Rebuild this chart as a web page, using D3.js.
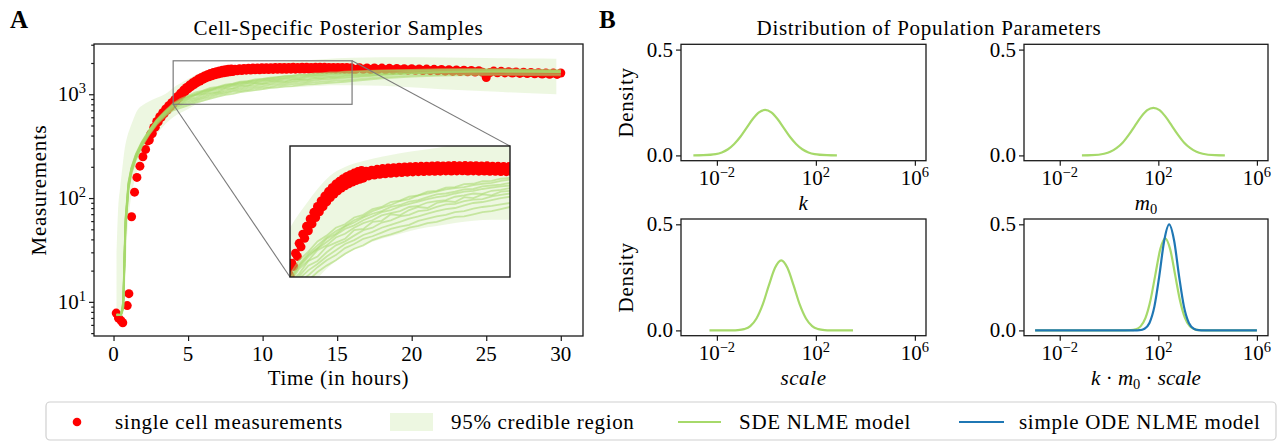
<!DOCTYPE html>
<html>
<head>
<meta charset="utf-8">
<script src="https://cdn.jsdelivr.net/npm/d3@7"></script>
<style>
  body { margin: 0; background: #fff; }
  text { font-family: "Liberation Serif", serif; fill: #000; }
</style>
</head>
<body>
<div class="chart"></div>
<script>

// ---- panel A data ----
// [time (h), measurement]
var cellMeasurements = [
  [0.18,7.8],[0.33,7.0],[0.5,6.6],[0.62,6.3],[0.92,9.2],[1.03,12],[1.21,66],[1.41,114],
  [1.57,158],[1.77,203],[1.97,250],[2.15,294],
  [2.3,355],[2.4,362],[2.5,414],[2.6,419],[2.7,478],[2.8,482],[2.9,546],[3.0,543],[3.1,608],[3.2,599],
  [3.3,664],[3.4,652],[3.5,721],[3.6,704],[3.7,775],[3.8,755],[3.9,828],[4.0,807],[4.1,886],[4.2,865],
  [4.3,953],[4.4,931],[4.5,1025],[4.6,999],[4.7,1097],[4.8,1064],[4.9,1162],[5.0,1125],[5.1,1226],[5.2,1183],
  [5.3,1288],[5.4,1240],[5.5,1345],[5.6,1294],[5.7,1401],[5.8,1343],[5.9,1452],[6.0,1391],[6.1,1501],[6.2,1436],
  [6.3,1545],[6.4,1474],[6.5,1586],[6.6,1509],[6.7,1619],[6.8,1540],[6.9,1650],[7.0,1567],[7.1,1677],[7.2,1590],
  [7.3,1700],[7.4,1610],[7.5,1720],[7.6,1629],[7.7,1739],[7.8,1644],[7.9,1753],[8.0,1657],
  [8.15,1745],[8.3,1685],[8.45,1758],[8.6,1695],[8.75,1768],[8.9,1705],[9.05,1778],[9.2,1712],
  [9.35,1785],[9.5,1718],[9.65,1790],[9.8,1722],[9.95,1795],[10.1,1728],[10.25,1800],[10.4,1732],
  [10.55,1802],[10.7,1735],[10.85,1806],[11.0,1738],[11.15,1808],[11.3,1740],[11.45,1810],[11.6,1742],
  [11.75,1812],[11.9,1744],[12.05,1815],[12.2,1745],[12.35,1812],[12.5,1748],[12.65,1816],[12.8,1746],
  [12.95,1818],[13.1,1748],[13.25,1814],[13.4,1750],[13.55,1818],[13.7,1746],[13.85,1815],[14.0,1748],
  [14.15,1816],[14.3,1745],[14.45,1812],[14.6,1746],[14.75,1814],[14.9,1742],[15.05,1810],[15.2,1744],
  [15.35,1808],[15.5,1740],[15.65,1806],[15.8,1738],[15.95,1804],[16.1,1736],
  [16.25,1735],[16.5,1795],[16.75,1742],[17.0,1790],[17.25,1730],[17.5,1788],[17.75,1728],[18.0,1785],
  [18.25,1722],[18.5,1776],[18.75,1716],[19.0,1772],[19.25,1712],[19.5,1765],[19.75,1705],[20.0,1760],
  [20.25,1700],[20.5,1752],[20.75,1690],[21.0,1748],[21.25,1688],[21.5,1738],[21.75,1680],[22.0,1730],
  [22.25,1668],[22.5,1722],[22.75,1660],[23.0,1715],[23.25,1652],[23.5,1702],[23.75,1645],[24.0,1698],
  [24.25,1636],[24.5,1688],[24.75,1628],[25.0,1450],[25.25,1620],[25.5,1672],[25.75,1612],[26.0,1662],
  [26.25,1606],[26.5,1650],[26.75,1598],[27.0,1642],[27.25,1588],[27.5,1632],[27.75,1580],[28.0,1622],
  [28.25,1572],[28.5,1612],[28.75,1565],[29.0,1605],[29.25,1558],[29.5,1598],[29.75,1552],[30.0,1600]
];

// [time, lower, upper]
var credibleBand = [
  [0.2,6.8,30],[0.3,6.8,75],[0.45,6.8,128],[0.6,7,200],[0.75,12,300],[0.9,40,380],
  [1.1,85,470],[1.3,125,560],[1.6,180,700],[2.0,250,790],[2.5,340,870],[3.0,430,935],
  [3.5,520,1010],[4.0,600,1150],[5.0,720,1400],[5.5,790,1530],[6.2,870,1690],[7.0,940,1800],
  [8.0,1010,1880],[9.0,1060,1940],[10.0,1100,1990],[11.0,1140,2030],[12.0,1165,2070],[13.0,1190,2120],
  [14.0,1210,2170],[15.0,1220,2220],[17.0,1215,2260],[19.0,1190,2270],[22.0,1120,2260],[25.0,1070,2240],
  [28.0,1020,2210],[29.7,1000,2200]
];

var sampleTimes = [0.2,0.5,0.65,0.8,1.0,1.2,1.5,1.9,2.4,2.9,3.5,4.0,4.5,5.0,5.5,6.0,6.5,7.0,7.5,8.0,
  8.5,9.0,9.5,10.0,10.5,11.0,11.5,12.0,12.5,13.0,13.5,14.0,14.5,15.0,15.5,16.0,18,20,22,24,26,28,30];

var sdeSamples = [
  [7.6,7.4,10,62,140,195,262,345,450,565,690,800,880,950,1010,1070,1120,1165,1215,1250,
   1300,1330,1360,1400,1420,1460,1480,1500,1525,1540,1550,1575,1590,1600,1625,1640,1680,1700,1720,1730,1720,1700,1690],
  [7.5,7.5,8.5,48,120,172,235,312,410,510,620,700,740,780,830,870,905,950,985,1010,
   1050,1075,1095,1120,1150,1165,1190,1200,1225,1245,1250,1270,1290,1300,1320,1340,1420,1480,1510,1530,1540,1530,1520],
  [7.5,7.6,9,57,132,188,255,335,438,545,665,765,820,900,930,1000,1030,1060,1130,1140,
   1200,1210,1270,1260,1310,1340,1330,1380,1400,1390,1440,1430,1470,1460,1500,1510,1560,1600,1630,1640,1650,1640,1630],
  [7.5,7.5,9.5,58,135,192,258,340,445,555,680,785,860,930,985,1035,1090,1140,1170,1215,
   1250,1290,1310,1345,1370,1395,1420,1440,1455,1480,1500,1510,1530,1545,1560,1570,1610,1650,1660,1680,1670,1660,1650],
  [7.4,7.5,8.8,52,125,180,243,322,420,530,645,735,790,840,880,930,975,1020,1050,1090,
   1115,1150,1175,1200,1230,1250,1275,1300,1320,1330,1355,1380,1390,1410,1430,1445,1530,1590,1620,1640,1650,1650,1640],
  [7.5,7.5,9.2,56,131,186,252,333,435,548,670,770,850,905,975,1010,1070,1100,1150,1190,
   1215,1260,1280,1300,1340,1350,1385,1400,1410,1445,1460,1480,1475,1510,1520,1540,1580,1620,1640,1660,1660,1650,1640],
  [7.5,7.5,8.7,50,122,176,240,318,415,520,635,720,770,810,860,905,940,990,1020,1060,
   1080,1110,1140,1160,1175,1210,1230,1250,1265,1290,1300,1325,1340,1350,1365,1380,1460,1520,1550,1570,1580,1570,1560],
  [7.5,7.5,9.8,60,137,193,260,342,448,560,685,790,870,940,990,1060,1100,1160,1195,1240,
   1275,1300,1340,1360,1395,1410,1440,1470,1480,1500,1525,1530,1560,1570,1580,1600,1640,1670,1690,1700,1700,1690,1680],
  [7.5,7.5,9,54,128,183,248,328,428,538,655,750,805,870,900,960,1010,1040,1085,1130,
   1150,1195,1215,1250,1265,1300,1310,1340,1365,1370,1400,1415,1420,1450,1465,1480,1540,1580,1610,1620,1630,1625,1615],
  [7.6,7.5,10.2,63,142,198,266,350,455,570,700,815,905,965,1040,1085,1150,1180,1240,1265,
   1320,1340,1390,1405,1445,1460,1500,1510,1545,1550,1585,1590,1620,1625,1650,1660,1700,1720,1740,1745,1740,1720,1710]
];

var timeTicks = [0, 5, 10, 15, 20, 25, 30];
var measTicks = [10, 100, 1000];
var zoomTime = [4, 16], zoomMeas = [800, 2100];

// ---- panel B data (log10 of parameter, density) ----
var kExp = [-2.95,-2.55,-2.05,-1.8,-1.55,-1.3,-1.05,-0.8,-0.55,-0.3,-0.05,0.2,0.45,0.7,0.95,1.2,1.45,1.7,1.95,2.45,2.85];
var kDensity = [0,0.001,0.006,0.014,0.029,0.054,0.088,0.130,0.172,0.203,0.215,0.203,0.172,0.130,0.088,0.054,0.029,0.014,0.006,0.001,0];
var m0Exp = [-1.1,-0.7,-0.2,0.05,0.3,0.55,0.8,1.05,1.3,1.55,1.8,2.05,2.3,2.55,2.8,3.05,3.3,3.55,3.8,4.3,4.7];
var m0Density = [0,0.001,0.008,0.017,0.034,0.060,0.097,0.140,0.182,0.214,0.225,0.214,0.182,0.140,0.097,0.060,0.034,0.017,0.008,0.001,0];
var scaleExp = [-2.3,-1.9,-1.4,-1.15,-0.9,-0.65,-0.4,-0.15,0.1,0.35,0.6,0.85,1.1,1.35,1.6,1.85,2.1,2.35,2.6,3.1,3.5];
var scaleDensity = [0,0,0.0003,0.0014,0.006,0.020,0.056,0.121,0.212,0.295,0.330,0.295,0.212,0.121,0.056,0.020,0.006,0.0014,0.0003,0,0];
var prodSdeExp = [-3,0.4,0.88,1.08,1.28,1.48,1.68,1.88,2.08,2.28,2.48,2.68,2.88,3.08,3.28,3.48,3.68,4.2,6];
var prodSdeDensity = [0,0,0.001,0.005,0.019,0.059,0.141,0.263,0.383,0.434,0.383,0.263,0.141,0.059,0.019,0.005,0.001,0,0];
var prodOdeExp = [-3,0.8,1.04,1.24,1.44,1.64,1.84,2.04,2.24,2.44,2.64,2.84,3.04,3.24,3.44,3.64,3.84,4.2,6];
var prodOdeDensity = [0,0,0,0.001,0.008,0.035,0.112,0.257,0.424,0.5,0.424,0.257,0.112,0.035,0.008,0.001,0,0,0];

var paramTicks = [1e-2, 1e2, 1e6], paramTickExp = ["\u22122", "2", "6"];
var densityTicks = [0, 0.5], densityLabels = ["0.0", "0.5"];

var legendLabels = ["single cell measurements", "95% credible region", "SDE NLME model", "simple ODE NLME model"];

// ---- setup ----
var width = 1278, height = 442;
var green = "#a6d96a", blue = "#1f77b4", red = "#ff0000", frameColor = "#1a1a1a";
var tickFont = 21, supFont = 14.5;

var svg = d3.select(".chart").append("svg")
    .attr("width", width)
    .attr("height", height);

svg.append("rect").attr("width", width).attr("height", height).attr("fill", "#fff");

var defs = svg.append("defs");

function pow10Label(g, px, py, anchor, exp) {
  var t = g.append("text")
    .attr("x", px).attr("y", py)
    .attr("text-anchor", anchor)
    .style("font-size", tickFont + "px");
  t.append("tspan").text("10");
  t.append("tspan").attr("dy", -8).style("font-size", supFont + "px").text(exp);
  return t;
}

function frame(g, x0, y0, x1, y1, w) {
  g.append("rect")
    .attr("x", x0).attr("y", y0)
    .attr("width", x1 - x0).attr("height", y1 - y0)
    .attr("fill", "none")
    .attr("stroke", frameColor)
    .attr("stroke-width", w || 1.3);
}

function styleAxis(g) {
  g.select(".domain").remove();
  g.selectAll(".tick line").attr("stroke", frameColor).attr("stroke-width", 1.2);
  g.selectAll(".tick text").remove();
}

// ---- panel A ----
var A = {left: 94, right: 583, top: 44, bottom: 336};
var x = d3.scaleLinear().domain([-1.31, 31.49]).range([A.left, A.right]);
var y = d3.scaleLog().domain([4.69, 3048]).range([A.bottom, A.top]);

function drawCell(g, xs, ys) {
  var band = d3.area()
    .x(function(d) { return xs(d[0]); })
    .y0(function(d) { return ys(d[1]); })
    .y1(function(d) { return ys(d[2]); })
    .curve(d3.curveMonotoneX);
  g.append("path")
    .datum(credibleBand)
    .attr("d", band)
    .attr("fill", green)
    .attr("fill-opacity", 0.2);

  g.selectAll(".meas")
    .data(cellMeasurements)
    .enter().append("circle")
      .attr("class", "meas")
      .attr("cx", function(d) { return xs(d[0]); })
      .attr("cy", function(d) { return ys(d[1]); })
      .attr("r", 4.5)
      .attr("fill", red);

  var line = d3.line()
    .x(function(d, i) { return xs(sampleTimes[i]); })
    .y(function(d) { return ys(d); });
  g.selectAll(".sample")
    .data(sdeSamples)
    .enter().append("path")
      .attr("class", "sample")
      .attr("d", line)
      .attr("fill", "none")
      .attr("stroke", green)
      .attr("stroke-width", 1.8)
      .attr("stroke-opacity", 0.55);
}

defs.append("clipPath").attr("id", "clipA")
  .append("rect").attr("x", A.left).attr("y", A.top)
  .attr("width", A.right - A.left).attr("height", A.bottom - A.top);

var gA = svg.append("g").attr("clip-path", "url(#clipA)");
drawCell(gA, x, y);

// x axis
svg.append("g")
  .attr("transform", "translate(0," + A.bottom + ")")
  .call(d3.axisBottom(x).tickValues(timeTicks).tickSize(5))
  .call(styleAxis);
timeTicks.forEach(function(t) {
  svg.append("text")
    .attr("x", x(t)).attr("y", A.bottom + 25)
    .attr("text-anchor", "middle")
    .style("font-size", tickFont + "px")
    .text(t);
});

// y axis, major + minor
svg.append("g")
  .attr("transform", "translate(" + A.left + ",0)")
  .call(d3.axisLeft(y).tickValues(measTicks).tickSize(5))
  .call(styleAxis);
svg.append("g")
  .attr("transform", "translate(" + A.left + ",0)")
  .call(d3.axisLeft(y).tickValues(y.ticks().filter(function(v) { return measTicks.indexOf(v) < 0; })).tickSize(2.8))
  .call(styleAxis);
measTicks.forEach(function(v) {
  pow10Label(svg, A.left - 8, y(v) + 7, "end", String(Math.round(Math.log10(v))));
});

frame(svg, A.left, A.top, A.right, A.bottom);

// zoom indicator + inset
var inset = {left: 290, right: 510, top: 146, bottom: 277};
var ix = d3.scaleLinear().domain(zoomTime).range([inset.left, inset.right]);
var iy = d3.scaleLog().domain(zoomMeas).range([inset.bottom, inset.top]);

svg.append("rect")
  .attr("x", x(zoomTime[0])).attr("y", y(zoomMeas[1]))
  .attr("width", x(zoomTime[1]) - x(zoomTime[0]))
  .attr("height", y(zoomMeas[0]) - y(zoomMeas[1]))
  .attr("fill", "none").attr("stroke", "#7a7a7a").attr("stroke-width", 1.2);

svg.append("line")
  .attr("x1", x(zoomTime[0])).attr("y1", y(zoomMeas[0]))
  .attr("x2", inset.left).attr("y2", inset.bottom)
  .attr("stroke", "#7a7a7a").attr("stroke-width", 1.1);
svg.append("line")
  .attr("x1", x(zoomTime[1])).attr("y1", y(zoomMeas[1]))
  .attr("x2", inset.right).attr("y2", inset.top)
  .attr("stroke", "#7a7a7a").attr("stroke-width", 1.1);

svg.append("rect")
  .attr("x", inset.left).attr("y", inset.top)
  .attr("width", inset.right - inset.left).attr("height", inset.bottom - inset.top)
  .attr("fill", "#fff");

defs.append("clipPath").attr("id", "clipInset")
  .append("rect").attr("x", inset.left).attr("y", inset.top)
  .attr("width", inset.right - inset.left).attr("height", inset.bottom - inset.top);

var gI = svg.append("g").attr("clip-path", "url(#clipInset)");
drawCell(gI, ix, iy);
frame(svg, inset.left, inset.top, inset.right, inset.bottom, 1.4);

// titles / labels A
svg.append("text")
  .attr("x", 10).attr("y", 28)
  .style("font-size", "25px").style("font-weight", "bold")
  .text("A");

svg.append("text")
  .attr("x", (A.left + A.right) / 2).attr("y", 35)
  .attr("text-anchor", "middle")
  .style("font-size", "21px").style("letter-spacing", "0.7px")
  .text("Cell-Specific Posterior Samples");

svg.append("text")
  .attr("transform", "translate(46," + (A.top + A.bottom) / 2 + ") rotate(-90)")
  .attr("text-anchor", "middle")
  .style("font-size", "21px").style("letter-spacing", "0.7px")
  .text("Measurements");

svg.append("text")
  .attr("x", (A.left + A.right) / 2).attr("y", 385)
  .attr("text-anchor", "middle")
  .style("font-size", "21px").style("letter-spacing", "0.7px")
  .text("Time (in hours)");

// ---- panel B ----
var cols = [[681, 926], [1024, 1268]];
var rows = [[44.3, 160.7], [219, 335.7]];

var panels = [
  {col: 0, row: 0, label: "k", curves: [[kExp, kDensity, green]]},
  {col: 1, row: 0, label: "m0", curves: [[m0Exp, m0Density, green]]},
  {col: 0, row: 1, label: "scale", curves: [[scaleExp, scaleDensity, green]]},
  {col: 1, row: 1, label: "prod", curves: [[prodSdeExp, prodSdeDensity, green], [prodOdeExp, prodOdeDensity, blue]]}
];

panels.forEach(function(p) {
  var c = cols[p.col], r = rows[p.row];
  var bx = d3.scaleLog().domain([Math.pow(10, -3.45), Math.pow(10, 6.45)]).range(c);
  var by = d3.scaleLinear().domain([-0.025, 0.525]).range([r[1], r[0]]);
  var g = svg.append("g");

  var line = d3.line()
    .x(function(d) { return bx(Math.pow(10, d[0])); })
    .y(function(d) { return by(d[1]); })
    .curve(d3.curveMonotoneX);

  p.curves.forEach(function(cv) {
    g.append("path")
      .datum(d3.zip(cv[0], cv[1]))
      .attr("d", line)
      .attr("fill", "none")
      .attr("stroke", cv[2])
      .attr("stroke-width", 2.2);
  });

  g.append("g")
    .attr("transform", "translate(0," + r[1] + ")")
    .call(d3.axisBottom(bx).tickValues(paramTicks).tickSize(5))
    .call(styleAxis);
  paramTicks.forEach(function(v, i) {
    pow10Label(g, bx(v), r[1] + 24, "middle", paramTickExp[i]);
  });

  g.append("g")
    .attr("transform", "translate(" + c[0] + ",0)")
    .call(d3.axisLeft(by).tickValues(densityTicks).tickSize(5))
    .call(styleAxis);
  densityTicks.forEach(function(v, i) {
    g.append("text")
      .attr("x", c[0] - 8).attr("y", by(v) + 7)
      .attr("text-anchor", "end")
      .style("font-size", tickFont + "px")
      .text(densityLabels[i]);
  });

  frame(g, c[0], r[0], c[1], r[1]);

  if (p.col === 0) {
    g.append("text")
      .attr("transform", "translate(633," + (r[0] + r[1]) / 2 + ") rotate(-90)")
      .attr("text-anchor", "middle")
      .style("font-size", "21px").style("letter-spacing", "0.7px")
      .text("Density");
  }

  var lab = g.append("text")
    .attr("x", (c[0] + c[1]) / 2).attr("y", r[1] + 49)
    .attr("text-anchor", "middle")
    .style("font-size", "21px");
  if (p.label === "m0") {
    lab.append("tspan").style("font-style", "italic").text("m");
    lab.append("tspan").attr("dy", 4).style("font-size", supFont + "px").text("0");
  } else if (p.label === "prod") {
    lab.append("tspan").style("font-style", "italic").text("k");
    lab.append("tspan").text(" \u00b7 ");
    lab.append("tspan").style("font-style", "italic").text("m");
    lab.append("tspan").attr("dy", 4).style("font-size", supFont + "px").text("0");
    lab.append("tspan").attr("dy", -4).text(" \u00b7 ");
    lab.append("tspan").style("font-style", "italic").text("scale");
  } else {
    lab.append("tspan").style("font-style", "italic").style("letter-spacing", "0.6px").text(p.label);
  }
});

svg.append("text")
  .attr("x", 599).attr("y", 28)
  .style("font-size", "25px").style("font-weight", "bold")
  .text("B");

svg.append("text")
  .attr("x", 929).attr("y", 35)
  .attr("text-anchor", "middle")
  .style("font-size", "21px").style("letter-spacing", "0.7px")
  .text("Distribution of Population Parameters");

// ---- legend ----
var leg = svg.append("g");
leg.append("rect")
  .attr("x", 46).attr("y", 402).attr("width", 1230).attr("height", 38)
  .attr("rx", 4)
  .attr("fill", "#fff").attr("stroke", "#d0d0d0").attr("stroke-width", 1.2);

var legY = 422;
leg.append("circle").attr("cx", 77).attr("cy", legY).attr("r", 4.3).attr("fill", red);
leg.append("rect").attr("x", 390).attr("y", legY - 9).attr("width", 43).attr("height", 18)
  .attr("fill", green).attr("fill-opacity", 0.2);
leg.append("line").attr("x1", 678).attr("x2", 721).attr("y1", legY).attr("y2", legY)
  .attr("stroke", green).attr("stroke-width", 2.2);
leg.append("line").attr("x1", 959).attr("x2", 1004).attr("y1", legY).attr("y2", legY)
  .attr("stroke", blue).attr("stroke-width", 2.2);

var legTextX = [115, 451, 739, 1019];
legendLabels.forEach(function(s, i) {
  leg.append("text")
    .attr("x", legTextX[i]).attr("y", legY + 7)
    .style("font-size", "21px").style("letter-spacing", "0.7px")
    .text(s);
});

</script>
</body>
</html>
